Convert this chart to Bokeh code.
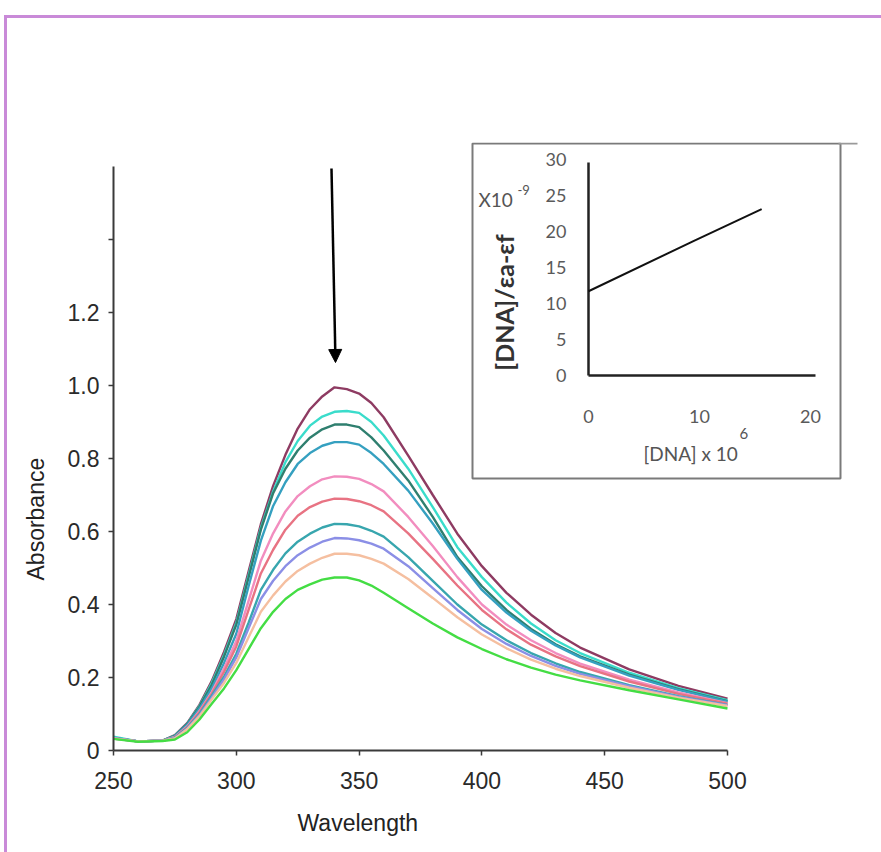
import math
from bokeh.plotting import figure
from bokeh.models import (Range1d, FixedTicker, Arrow, NormalHead, Title,
                          PrintfTickFormatter)
from bokeh.core.properties import value
from bokeh.embed import file_html
from bokeh.resources import INLINE

# ---------------- data ----------------
wavelength = [250, 260, 270, 275, 280, 285, 290, 295, 300, 305, 310, 315, 320, 325,
              330, 335, 340, 345, 350, 355, 360, 370, 380, 390, 400, 410, 420, 430,
              440, 460, 480, 500]

abs_1 = [0.035, 0.025, 0.027, 0.042, 0.075, 0.125, 0.19, 0.27, 0.36, 0.49, 0.62, 0.725, 0.81, 0.882,
         0.935, 0.97, 0.995, 0.99, 0.978, 0.952, 0.913, 0.808, 0.70, 0.594, 0.505, 0.432, 0.372, 0.322,
         0.282, 0.222, 0.177, 0.142]
abs_2 = [0.038, 0.025, 0.027, 0.041, 0.073, 0.122, 0.185, 0.262, 0.35, 0.48, 0.61, 0.71, 0.79, 0.848,
         0.89, 0.915, 0.928, 0.93, 0.925, 0.90, 0.863, 0.772, 0.667, 0.557, 0.475, 0.405, 0.348, 0.302,
         0.267, 0.213, 0.171, 0.138]
abs_3 = [0.034, 0.025, 0.027, 0.040, 0.072, 0.120, 0.18, 0.257, 0.345, 0.474, 0.605, 0.705, 0.772, 0.822,
         0.857, 0.88, 0.893, 0.893, 0.886, 0.858, 0.822, 0.74, 0.64, 0.53, 0.45, 0.385, 0.333, 0.291,
         0.258, 0.208, 0.168, 0.135]
abs_4 = [0.035, 0.025, 0.027, 0.039, 0.070, 0.115, 0.17, 0.24, 0.32, 0.45, 0.575, 0.67, 0.735, 0.785,
         0.815, 0.835, 0.845, 0.845, 0.838, 0.815, 0.785, 0.712, 0.622, 0.525, 0.44, 0.378, 0.328, 0.288,
         0.255, 0.205, 0.166, 0.134]
abs_5 = [0.033, 0.025, 0.027, 0.037, 0.066, 0.108, 0.16, 0.225, 0.30, 0.41, 0.52, 0.595, 0.655, 0.697,
         0.724, 0.743, 0.751, 0.75, 0.744, 0.73, 0.71, 0.64, 0.56, 0.475, 0.40, 0.345, 0.302, 0.267,
         0.238, 0.194, 0.159, 0.13]
abs_6 = [0.034, 0.025, 0.027, 0.036, 0.064, 0.105, 0.155, 0.215, 0.285, 0.385, 0.485, 0.55, 0.605, 0.643,
         0.667, 0.682, 0.69, 0.689, 0.683, 0.672, 0.655, 0.595, 0.525, 0.452, 0.385, 0.332, 0.29, 0.258,
         0.231, 0.189, 0.155, 0.128]
abs_7 = [0.033, 0.025, 0.027, 0.035, 0.062, 0.100, 0.15, 0.202, 0.265, 0.35, 0.44, 0.495, 0.54, 0.572,
         0.594, 0.611, 0.621, 0.62, 0.614, 0.602, 0.586, 0.53, 0.465, 0.40, 0.345, 0.302, 0.267, 0.239,
         0.215, 0.179, 0.149, 0.125]
abs_8 = [0.034, 0.025, 0.027, 0.034, 0.060, 0.097, 0.145, 0.195, 0.255, 0.335, 0.415, 0.465, 0.505, 0.535,
         0.556, 0.572, 0.582, 0.581, 0.576, 0.567, 0.553, 0.505, 0.445, 0.385, 0.333, 0.292, 0.259, 0.232,
         0.21, 0.176, 0.147, 0.124]
abs_9 = [0.033, 0.025, 0.027, 0.033, 0.058, 0.094, 0.14, 0.185, 0.24, 0.31, 0.38, 0.425, 0.463, 0.492,
         0.512, 0.528, 0.539, 0.539, 0.535, 0.525, 0.512, 0.47, 0.418, 0.365, 0.318, 0.28, 0.249, 0.224,
         0.204, 0.172, 0.145, 0.122]
abs_10 = [0.032, 0.024, 0.026, 0.030, 0.050, 0.085, 0.128, 0.17, 0.22, 0.278, 0.335, 0.38, 0.415, 0.44,
          0.455, 0.468, 0.474, 0.474, 0.466, 0.452, 0.432, 0.39, 0.348, 0.31, 0.278, 0.25, 0.227, 0.208,
          0.192, 0.165, 0.14, 0.115]

series = [abs_1, abs_2, abs_3, abs_4, abs_5, abs_6, abs_7, abs_8, abs_9, abs_10]
series_colors = ["#8E3B62", "#3ADCCB", "#2F7F6F", "#35A0C0", "#F28DBF",
                 "#E87383", "#38A6AE", "#8B8FE6", "#F5BFA0", "#44DD44"]

x_ticks = [250, 300, 350, 400, 450, 500]
y_ticks = [0, 0.2, 0.4, 0.6, 0.8, 1.0, 1.2, 1.4]

# inset data
inset_x = [0, 9.5, 15.6]
inset_y = [11.7, 18.7, 23.1]
inset_x_ticks = [0, 10, 20]
inset_y_ticks = [0, 5, 10, 15, 20, 25, 30]

# ---------------- layout helpers (page pixel -> coords) ----------------
W, H = 881, 852
FL, FR, FT, FB = 113, 860, 142, 750          # frame edges on the page


def px_x(x):
    return 250 + (x - 113) / 2.456


def px_y(y):
    return (750 - y) / 365.0


def ipx_x(x):
    return (x - 588) / 11.1


def ipx_y(y):
    return (375 - y) / 7.2


p = figure(width=W, height=H,
           x_range=Range1d(px_x(FL), px_x(FR)), y_range=Range1d(px_y(FB), px_y(FT)),
           output_backend="svg", toolbar_location=None,
           min_border_left=FL, min_border_right=W - FR,
           min_border_top=FT, min_border_bottom=H - FB)
p.extra_x_ranges = {"ix": Range1d(ipx_x(FL), ipx_x(FR))}
p.extra_y_ranges = {"iy": Range1d(ipx_y(FB), ipx_y(FT))}
p.grid.visible = False
p.outline_line_color = None
p.background_fill_color = None
p.border_fill_color = None
p.styles = {"background": "linear-gradient(#C98AD8,#C98AD8) 4px 15px / 100% 3px no-repeat, "
                          "linear-gradient(#C98AD8,#C98AD8) 4px 15px / 3px 100% no-repeat"}

for ys, col in zip(series, series_colors):
    p.line(wavelength, ys, line_color=col, line_width=2.4)

for ax in (p.xaxis[0], p.yaxis[0]):
    ax.axis_line_color = "#3a3a3a"
    ax.axis_line_width = 2
    ax.major_tick_line_color = "#3a3a3a"
    ax.major_tick_line_width = 1.5
    ax.major_tick_in = 0
    ax.major_tick_out = 5
    ax.minor_tick_line_color = None
    ax.major_label_text_font = "Liberation Sans"
    ax.major_label_text_font_size = "23px"
    ax.major_label_text_color = "#2a2a2a"

p.xaxis.ticker = FixedTicker(ticks=x_ticks)
p.xaxis.bounds = (250, 500)
p.xaxis.major_label_standoff = 16
p.yaxis.ticker = FixedTicker(ticks=y_ticks)
p.yaxis.bounds = (0, 1.6)
p.yaxis.formatter = PrintfTickFormatter(format="%.1f")
p.yaxis.major_label_standoff = 9
p.yaxis.major_label_overrides = {0: "0", 1.4: ""}

# axis titles as side-panel titles (placed along the axis by offset)
p.add_layout(Title(text="Absorbance", align="left", offset=170, standoff=32,
                   text_font="Liberation Sans", text_font_size="23px",
                   text_font_style="normal", text_color="#222222"), "left")
p.add_layout(Title(text="Wavelength", align="left", offset=184, standoff=33,
                   text_font="Liberation Sans", text_font_size="23px",
                   text_font_style="normal", text_color="#222222"), "below")

# pointer arrow
p.add_layout(Arrow(end=NormalHead(size=13, fill_color="black", line_color="black"),
                   x_start=px_x(331), y_start=px_y(168), x_end=px_x(335), y_end=px_y(362),
                   line_color="black", line_width=2.5))

# ---------------- inset (drawn on its own linear scales) ----------------
IR = dict(x_range_name="ix", y_range_name="iy")
p.quad(left=ipx_x(472), right=ipx_x(840), top=ipx_y(143), bottom=ipx_y(478),
       fill_color="white", line_color="#7a7a7a", line_width=2, **IR)
p.segment(x0=[ipx_x(838)], y0=[ipx_y(143)], x1=[ipx_x(857)], y1=[ipx_y(143)],
          line_color="#9a9a9a", line_width=2, **IR)
# inset axis lines
p.segment(x0=[0, 0], y0=[0, 0], x1=[20.45, 0], y1=[0, 29.6],
          line_color="#222222", line_width=2.5, **IR)
p.line(inset_x, inset_y, line_color="#111111", line_width=2, **IR)

# inset tick labels
p.text(x=[ipx_x(566)] * len(inset_y_ticks), y=inset_y_ticks,
       text=[str(t) for t in inset_y_ticks], text_align="right", text_baseline="middle",
       text_font=value("Lato"), text_font_size="18px", text_color="#5a5a5a", **IR)
p.text(x=inset_x_ticks, y=[ipx_y(416)] * len(inset_x_ticks),
       text=[str(t) for t in inset_x_ticks], text_align="center", text_baseline="middle",
       text_font=value("Lato"), text_font_size="18px", text_color="#5a5a5a", **IR)

# inset titles
p.text(x=[ipx_x(503)], y=[ipx_y(302)], text=["[DNA]/εa-εf"], angle=math.pi / 2,
       text_align="center", text_baseline="middle", text_font=value("Lato"),
       text_font_style="bold", text_font_size="25px", text_color="#333333", **IR)
p.text(x=[ipx_x(478)], y=[ipx_y(199)], text=["X10"], text_align="left",
       text_baseline="middle", text_font=value("Lato"), text_font_size="19px",
       text_color="#555555", **IR)
p.text(x=[ipx_x(517)], y=[ipx_y(189)], text=["-9"], text_align="left",
       text_baseline="middle", text_font=value("Lato"), text_font_size="13px",
       text_color="#555555", **IR)
p.text(x=[ipx_x(643)], y=[ipx_y(453)], text=["[DNA] x 10"], text_align="left",
       text_baseline="middle", text_font=value("Lato"), text_font_size="19px",
       text_color="#555555", **IR)
p.text(x=[ipx_x(739)], y=[ipx_y(433)], text=["6"], text_align="left",
       text_baseline="middle", text_font=value("Lato"), text_font_size="15px",
       text_color="#555555", **IR)

open("out.html", "w").write(file_html(p, INLINE))
